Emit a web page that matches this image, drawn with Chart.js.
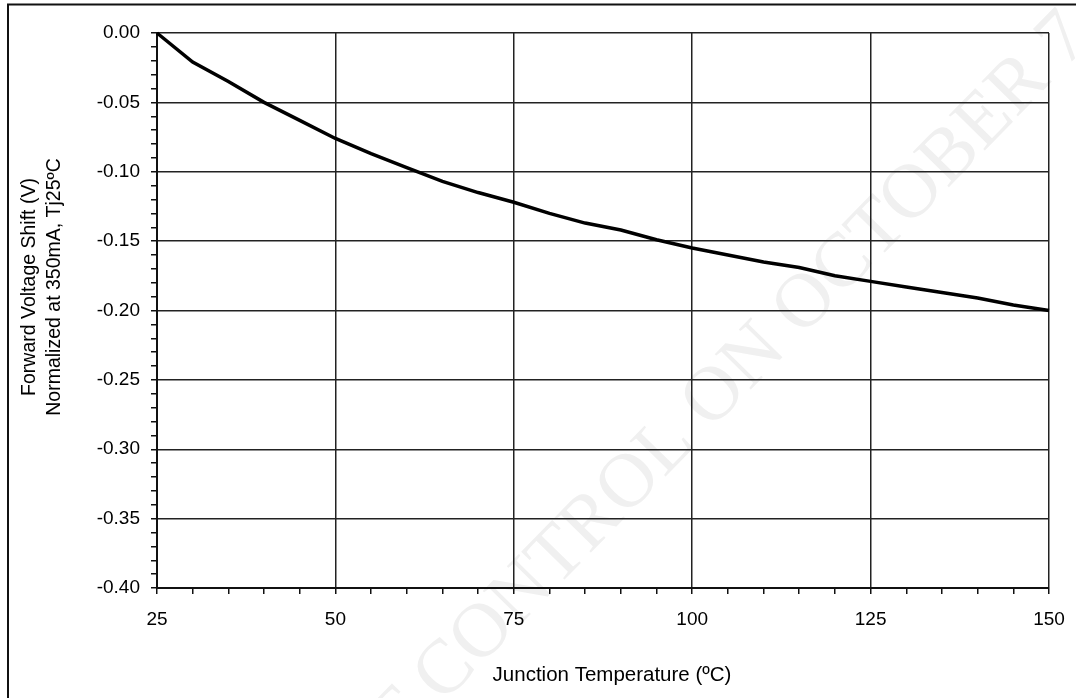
<!DOCTYPE html>
<html>
<head>
<meta charset="utf-8">
<script src="https://cdn.jsdelivr.net/npm/chart.js@4.4.1/dist/chart.umd.min.js"></script>
<style>
  html, body { margin: 0; padding: 0; background: #ffffff; }
  #wrap { width: 1076px; height: 698px; }
</style>
</head>
<body>
<div id="wrap"><canvas id="c" width="1076" height="698"></canvas></div>
<script>
// ---- data ----
const temps  = [25, 30, 35, 40, 45, 50, 55, 60, 65, 70, 75, 80, 85, 90, 95, 100, 105, 110, 115, 120, 125, 130, 135, 140, 145, 150];
const shifts = [0.000, -0.021, -0.035, -0.050, -0.063, -0.076, -0.087, -0.097, -0.107, -0.115, -0.122, -0.130, -0.137, -0.142, -0.149, -0.155, -0.160, -0.165, -0.169, -0.175, -0.179, -0.183, -0.187, -0.191, -0.196, -0.200];
const xTickLabels = ['25', '50', '75', '100', '125', '150'];
const yTickLabels = ['0.00', '-0.05', '-0.10', '-0.15', '-0.20', '-0.25', '-0.30', '-0.35', '-0.40'];
const xTitle = 'Junction Temperature (\u00BAC)';
const yTitleLines = ['Forward Voltage Shift (V)', 'Normalized at 350mA, Tj25\u00BAC'];
const watermark = 'DOCUMENT CONTROL ON OCTOBER 7';

const FONT = "'Liberation Sans', Arial, sans-serif";

function yLabel(v) {
  let s = v.toFixed(2);
  if (s === '-0.00') s = '0.00';
  return s;
}
function xLabel(v) { return String(Math.round(v)); }

const decorPlugin = {
  id: 'decor',
  beforeDraw(chart) {
    const ctx = chart.ctx;
    ctx.save();
    // faint watermark
    ctx.font = "77px 'Liberation Serif', 'DejaVu Serif', serif";
    ctx.fillStyle = '#f0f0f0';
    ctx.textAlign = 'left';
    ctx.textBaseline = 'middle';
    const ang = -45.6 * Math.PI / 180;
    const pre = ctx.measureText('DOCUMENT ').width;
    const ax = 428, ay = 690;
    const sx = ax - pre * Math.cos(ang), sy = ay - pre * Math.sin(ang);
    ctx.translate(sx, sy);
    ctx.rotate(ang);
    ctx.fillText(watermark, 0, 0);
    ctx.restore();
  },
  afterDraw(chart) {
    const ctx = chart.ctx;
    ctx.save();
    // outer frame (top and left edges visible)
    ctx.strokeStyle = '#111';
    ctx.lineWidth = 2;
    ctx.beginPath();
    ctx.moveTo(8, 700); ctx.lineTo(8, 4.5); ctx.lineTo(1080, 4.5);
    ctx.stroke();
    // axis titles
    ctx.fillStyle = '#000';
    ctx.font = '20.5px ' + FONT;
    ctx.textAlign = 'center';
    ctx.textBaseline = 'middle';
    ctx.fillText(xTitle, 612, 675);
    ctx.font = '19.5px ' + FONT;
    ctx.translate(0, 287);
    ctx.rotate(-Math.PI / 2);
    ctx.fillText(yTitleLines[0], 0, 30);
    ctx.fillText(yTitleLines[1], 0, 55);
    ctx.restore();
  }
};

new Chart(document.getElementById('c'), {
  type: 'line',
  data: {
    datasets: [{
      data: temps.map((t, i) => ({ x: t, y: shifts[i] })),
      borderColor: '#000',
      borderWidth: 3.5,
      pointRadius: 0,
      tension: 0,
      fill: false,
      clip: false
    }]
  },
  options: {
    responsive: false,
    devicePixelRatio: 1,
    animation: false,
    layout: { padding: { top: 33, right: 27, left: 0, bottom: 0 } },
    plugins: { legend: { display: false }, tooltip: { enabled: false }, title: { display: false } },
    scales: {
      x: {
        type: 'linear',
        min: 25, max: 150,
        afterFit(s) { s.height = 110; s.paddingLeft = 0; s.paddingRight = 0; },
        ticks: {
          stepSize: 5,
          autoSkip: false,
          maxRotation: 0,
          padding: 14,
          color: '#000',
          font: { family: FONT, size: 19 },
          callback: (v) => xTickLabels.includes(xLabel(v)) ? xLabel(v) : ''
        },
        grid: {
          color: (c) => (c.tick && xTickLabels.includes(xLabel(c.tick.value))) ? '#222' : 'rgba(0,0,0,0)',
          lineWidth: 1.5,
          tickColor: '#111',
          tickLength: 6,
          drawTicks: true
        },
        border: { display: true, color: '#111', width: 2 }
      },
      y: {
        type: 'linear',
        min: -0.40, max: 0,
        afterFit(s) { s.width = 157; s.paddingTop = 0; s.paddingBottom = 0; },
        ticks: {
          stepSize: 0.01,
          autoSkip: false,
          padding: 11,
          color: '#000',
          font: { family: FONT, size: 19 },
          callback: (v) => yTickLabels.includes(yLabel(v)) ? yLabel(v) : ''
        },
        grid: {
          color: (c) => (c.tick && yTickLabels.includes(yLabel(c.tick.value))) ? '#222' : 'rgba(0,0,0,0)',
          lineWidth: 1.5,
          tickColor: '#111',
          tickLength: 6,
          drawTicks: true
        },
        border: { display: true, color: '#111', width: 2 }
      }
    }
  },
  plugins: [decorPlugin]
});
</script>
</body>
</html>
